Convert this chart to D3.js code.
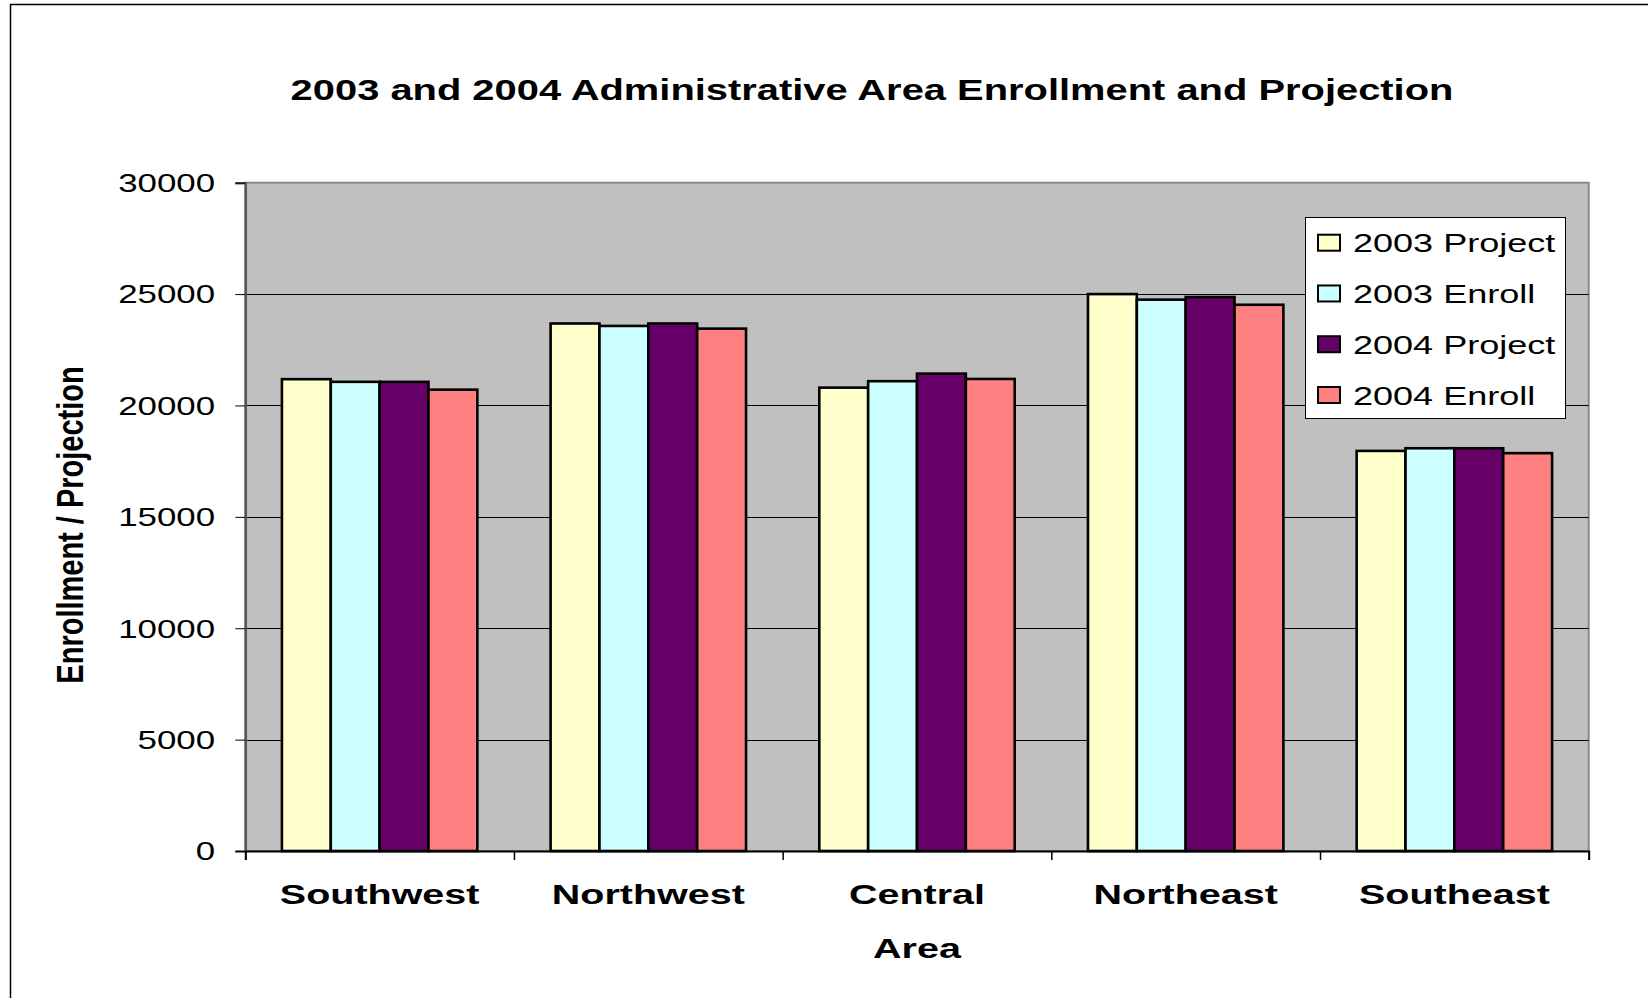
<!DOCTYPE html>
<html>
<head>
<meta charset="utf-8">
<script src="https://cdn.jsdelivr.net/npm/d3@7"></script>
<style>
  html, body { margin: 0; padding: 0; background: #fff; }
  svg { display: block; }
  text { font-family: "Liberation Sans", Arial, sans-serif; fill: #000; }
</style>
</head>
<body>
<svg id="chart" width="1648" height="998"></svg>
<script>
// ---- data ----
const categories = ["Southwest", "Northwest", "Central", "Northeast", "Southeast"];
const seriesNames = ["2003 Project", "2003 Enroll", "2004 Project", "2004 Enroll"];
const project2003 = [21180, 23680, 20800, 25000, 17960];
const enroll2003  = [21060, 23570, 21090, 24750, 18080];
const project2004 = [21060, 23680, 21430, 24870, 18080];
const enroll2004  = [20710, 23450, 21190, 24520, 17860];
const seriesColors = ["#FFFFCC", "#CCFFFF", "#660066", "#FF8080"];
const yTicks = [0, 5000, 10000, 15000, 20000, 25000, 30000];
const titleText = "2003 and 2004 Administrative Area Enrollment and Projection";
const xTitle = "Area";
const yTitle = "Enrollment / Projection";

const seriesValues = [project2003, enroll2003, project2004, enroll2004];

// ---- layout ----
const svg = d3.select("#chart");
const plot = { left: 245.3, right: 1588.7, top: 182.7, bottom: 851 };
const SX = 1.34; // horizontal stretch of the original rendering

// outer chart border
svg.append("rect")
  .attr("x", 10.5).attr("y", 4.5)
  .attr("width", 1700).attr("height", 1100)
  .attr("fill", "#fff").attr("stroke", "#000").attr("stroke-width", 1.5);

const x0 = d3.scaleBand().domain(categories).range([plot.left, plot.right]).padding(0);
const bw = x0.bandwidth() / (seriesNames.length + 1.5);
const x1 = d3.scaleBand().domain(seriesNames)
  .range([0.75 * bw, x0.bandwidth() - 0.75 * bw]).padding(0);
const y = d3.scaleLinear().domain([0, 30000]).range([plot.bottom, plot.top]);

// plot area background
svg.append("rect")
  .attr("x", plot.left).attr("y", plot.top)
  .attr("width", plot.right - plot.left).attr("height", plot.bottom - plot.top)
  .attr("fill", "#C0C0C0").attr("stroke", "#8a8a8a").attr("stroke-width", 2);

// gridlines
svg.append("g").selectAll("line")
  .data(yTicks.filter(t => t > 0 && t < 30000))
  .join("line")
  .attr("x1", plot.left).attr("x2", plot.right)
  .attr("y1", d => Math.round(y(d)) + 0.5).attr("y2", d => Math.round(y(d)) + 0.5)
  .attr("stroke", "#000").attr("stroke-width", 1);

// bars
const groups = svg.append("g").selectAll("g")
  .data(categories)
  .join("g")
  .attr("transform", d => `translate(${x0(d)},0)`);

groups.selectAll("rect")
  .data((c, ci) => seriesNames.map((s, si) => ({ s, si, v: seriesValues[si][ci] })))
  .join("rect")
  .attr("x", d => x1(d.s))
  .attr("y", d => y(d.v))
  .attr("width", x1.bandwidth())
  .attr("height", d => y(0) - y(d.v))
  .attr("fill", d => seriesColors[d.si])
  .attr("stroke", "#000").attr("stroke-width", 2.6);

// y axis
const yAxis = d3.axisLeft(y).tickValues(yTicks).tickSize(10).tickFormat("");
const yG = svg.append("g").attr("transform", `translate(${plot.left},0)`).call(yAxis);
yG.select(".domain").attr("stroke", "#5a5a5a").attr("stroke-width", 2.5);
yG.selectAll(".tick line").attr("stroke", "#000").attr("stroke-width", 1);

svg.append("g").selectAll("g")
  .data(yTicks)
  .join("g")
  .attr("transform", d => `translate(215,${y(d)}) scale(${SX},1)`)
  .append("text")
  .attr("text-anchor", "end")
  .attr("dy", "0.36em")
  .attr("font-size", 26)
  .text(d => d);

// x axis
const xAxis = d3.axisBottom(d3.scaleLinear().domain([0, categories.length]).range([plot.left, plot.right]))
  .tickValues(d3.range(categories.length + 1)).tickSize(9).tickFormat("");
const xG = svg.append("g").attr("transform", `translate(0,${plot.bottom})`).call(xAxis);
xG.select(".domain").attr("stroke", "#000").attr("stroke-width", 2);
xG.selectAll(".tick line").attr("stroke", "#000").attr("stroke-width", 1.5);

svg.append("g").selectAll("g")
  .data(categories)
  .join("g")
  .attr("transform", d => `translate(${x0(d) + x0.bandwidth() / 2},903.5) scale(1.41,1)`)
  .append("text")
  .attr("text-anchor", "middle")
  .attr("font-size", 28).attr("font-weight", "bold")
  .text(d => d);

// axis titles
svg.append("g")
  .attr("transform", `translate(${(plot.left + plot.right) / 2},958) scale(1.41,1)`)
  .append("text")
  .attr("text-anchor", "middle")
  .attr("font-size", 28).attr("font-weight", "bold")
  .text(xTitle);

svg.append("g")
  .attr("transform", `translate(83,525) scale(1.25,1) rotate(-90)`)
  .append("text")
  .attr("text-anchor", "middle")
  .attr("font-size", 29).attr("font-weight", "bold")
  .text(yTitle);

// title
svg.append("g")
  .attr("transform", `translate(872,100) scale(1.33,1)`)
  .append("text")
  .attr("text-anchor", "middle")
  .attr("font-size", 30).attr("font-weight", "bold")
  .text(titleText);

// legend
const legend = svg.append("g");
legend.append("rect")
  .attr("x", 1305.5).attr("y", 217.5).attr("width", 260).attr("height", 201)
  .attr("fill", "#fff").attr("stroke", "#000").attr("stroke-width", 1);
const rowY = d3.scalePoint().domain(seriesNames).range([242.7, 395]);
const items = legend.selectAll("g.item")
  .data(seriesNames)
  .join("g").attr("class", "item")
  .attr("transform", d => `translate(0,${rowY(d)})`);
items.append("rect")
  .attr("x", 1318).attr("y", -8).attr("width", 22).attr("height", 16)
  .attr("fill", (d, i) => seriesColors[i])
  .attr("stroke", "#000").attr("stroke-width", 2);
items.append("g")
  .attr("transform", `translate(1353,0) scale(1.36,1)`)
  .append("text")
  .attr("dy", "0.36em")
  .attr("font-size", 26.5)
  .text(d => d);
</script>
</body>
</html>
